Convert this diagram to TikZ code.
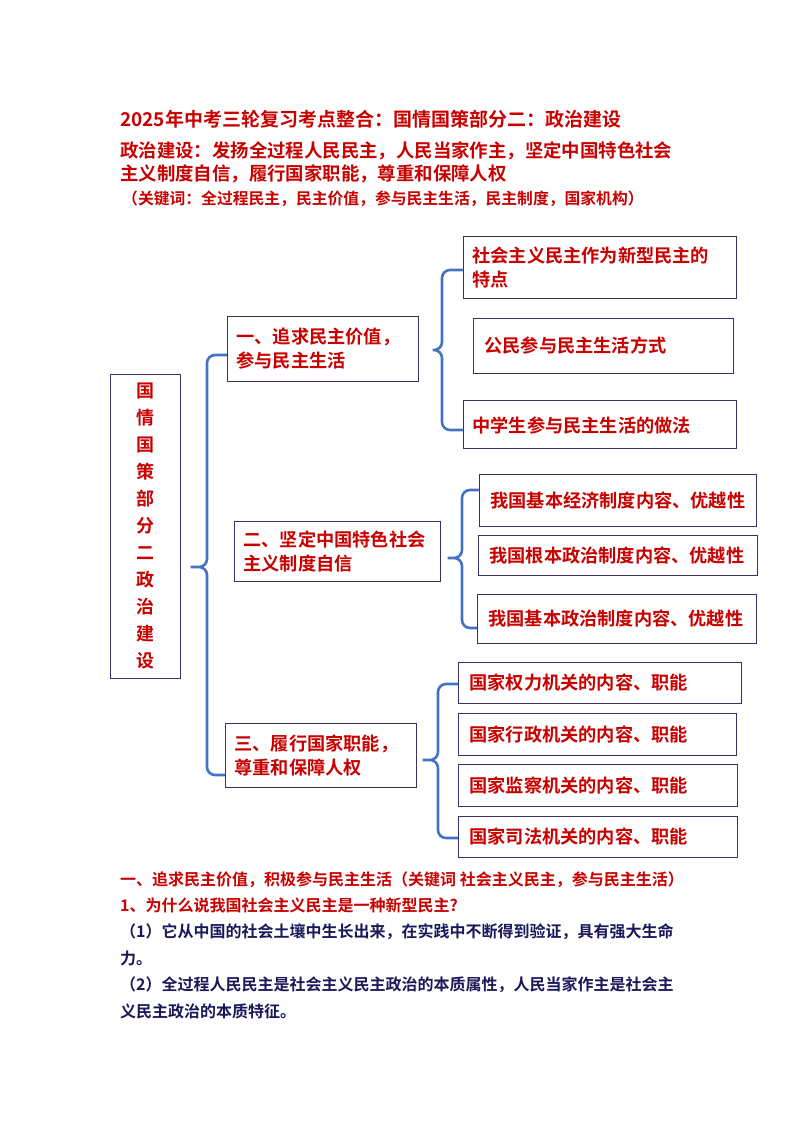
\documentclass[tikz,border=0pt]{standalone}
\usepackage{fontspec}
\newfontfamily\cjk{Noto Sans CJK SC}[BoldFont={Noto Sans CJK SC Bold}]
\definecolor{txtred}{RGB}{200,0,0}
\definecolor{navy}{RGB}{25,25,90}
\definecolor{boxline}{RGB}{50,50,110}
\definecolor{bracecol}{RGB}{68,114,196}
\tikzset{
  box/.style={draw=boxline, line width=0.8pt, text=txtred, font=\cjk\bfseries\fontsize{18.2}{24}\selectfont, align=left, anchor=north west, inner xsep=9pt},
  leaf/.style={box, inner xsep=11pt},
  brace/.style={draw=bracecol, line width=2.6pt, rounded corners=8pt},
  para/.style={anchor=west, font=\cjk\bfseries\fontsize{16}{20}\selectfont, inner sep=0pt}
}
\begin{document}
\begin{tikzpicture}[x=1pt, y=-1pt]
  \useasboundingbox (0,0) rectangle (794,1123);

  % Heading
  \node[para, text=txtred, font=\cjk\bfseries\fontsize{19}{20}\selectfont] (title) at (120,119) {2025年中考三轮复习考点整合：国情国策部分二：政治建设};
  \node[para, text=txtred, font=\cjk\bfseries\fontsize{18.4}{20}\selectfont] (sub1) at (120,151) {政治建设：发扬全过程人民民主，人民当家作主，坚定中国特色社会};
  \node[para, text=txtred, font=\cjk\bfseries\fontsize{18.4}{20}\selectfont] (sub2) at (120,174) {主义制度自信，履行国家职能，尊重和保障人权};
  \node[para, text=txtred, font=\cjk\bfseries\fontsize{15.8}{20}\selectfont] (keys) at (122,199) {（关键词：全过程民主，民主价值，参与民主生活，民主制度，国家机构）};

  % Root box
  \node[draw=boxline, line width=0.8pt, text=txtred, minimum width=70pt, minimum height=304pt, align=center, anchor=north west, font=\cjk\bfseries\fontsize{18}{27}\selectfont] (root) at (110,374) {国\\情\\国\\策\\部\\分\\二\\政\\治\\建\\设};

  % Second level
  \node[box, text width=173pt, minimum height=65pt] (b1) at (227,316) {一、追求民主价值，\\参与民主生活};
  \node[box, text width=188pt, minimum height=60pt] (b2) at (234,521) {二、坚定中国特色社会\\主义制度自信};
  \node[box, text width=173pt, minimum height=64pt] (b3) at (225,723) {三、履行国家职能，\\尊重和保障人权};

  % Leaves
  \node[box, text width=255pt, minimum height=62pt] (l1) at (463,236) {社会主义民主作为新型民主的\\特点};
  \node[leaf, text width=238pt, minimum height=55pt] (l2) at (473,318) {公民参与民主生活方式};
  \node[box, text width=255pt, minimum height=48pt, text depth=-10pt] (l3) at (463,400) {中学生参与民主生活的做法};
  \node[leaf, text width=255pt, minimum height=52pt] (l4) at (479,474) {我国基本经济制度内容、优越性};
  \node[leaf, text width=257pt, minimum height=40pt] (l5) at (478,535) {我国根本政治制度内容、优越性};
  \node[leaf, text width=257pt, minimum height=49pt] (l6) at (477,594) {我国基本政治制度内容、优越性};
  \node[leaf, text width=261pt, minimum height=41pt] (l7) at (458,662) {国家权力机关的内容、职能};
  \node[leaf, text width=256pt, minimum height=42pt] (l8) at (458,713) {国家行政机关的内容、职能};
  \node[leaf, text width=257pt, minimum height=42pt] (l9) at (458,764) {国家监察机关的内容、职能};
  \node[leaf, text width=257pt, minimum height=41pt] (l10) at (458,816) {国家司法机关的内容、职能};

  % Braces
  \draw[brace] (b1.west |- 0,355) -| (207,567) -- (186,567) -- (207,567) |- (b3.west |- 0,775);
  \draw[brace] (l1.west |- 0,270) -| (442,350) -- (428,350) -- (442,350) |- (l3.west |- 0,430);
  \draw[brace] (l4.west |- 0,490) -| (462,558) -- (443,558) -- (462,558) |- (l6.west |- 0,628);
  \draw[brace] (l7.west |- 0,684) -| (438,760) -- (418,760) -- (438,760) |- (l10.west |- 0,838);

  % Text below
  \node[para, text=txtred] (h1) at (120,880) {一、追求民主价值，积极参与民主生活（关键词 社会主义民主，参与民主生活）};
  \node[para, text=txtred] (q1) at (120,905) {1、为什么说我国社会主义民主是一种新型民主?};
  \node[para, text=navy] (a1) at (120,932) {（1）它从中国的社会土壤中生长出来，在实践中不断得到验证，具有强大生命};
  \node[para, text=navy] (a1b) at (120,958) {力。};
  \node[para, text=navy] (a2) at (120,985) {（2）全过程人民民主是社会主义民主政治的本质属性，人民当家作主是社会主};
  \node[para, text=navy] (a2b) at (120,1011) {义民主政治的本质特征。};
\end{tikzpicture}
\end{document}
